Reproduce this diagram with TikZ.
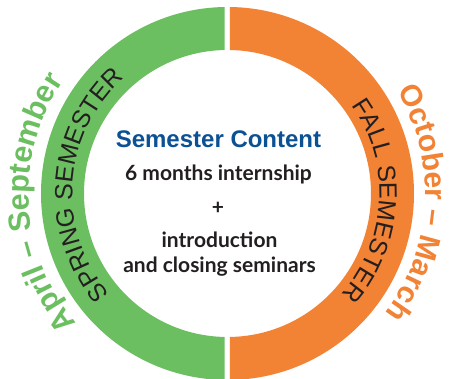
\documentclass[tikz,border=0pt]{standalone}
\usepackage{fontspec}
\setmainfont{Liberation Sans}
\newfontfamily\contentfont{Lato}
\usetikzlibrary{decorations.text}

\definecolor{springgreen}{HTML}{6CBF61}
\definecolor{fallorange}{HTML}{F28234}
\definecolor{titleblue}{HTML}{0B5193}
\definecolor{inktext}{HTML}{231F20}

\tikzset{
  ringtext/.style={decorate, decoration={text along path, text align=center, text={#1}}},
  titletext/.style={font=\bfseries\fontsize{24}{24}\selectfont, text=titleblue, anchor=base, inner sep=0pt},
  contentline/.style={font=\contentfont\bfseries\fontsize{21}{21}\selectfont, text=inktext, anchor=base, inner sep=0pt},
}

\begin{document}
\begin{tikzpicture}[x=1pt, y=1pt]
        \useasboundingbox (-227.5,-185.5) rectangle (222.5,193.5);

        % Spring half
        \begin{scope}
            \clip (-240,-200) rectangle (-2.8,200);
            \fill[springgreen, even odd rule] (0,0) circle (186.5pt) (0,0) circle (143.5pt);
        \end{scope}

        % Fall half
        \begin{scope}
            \clip (2.5,-200) rectangle (240,200);
            \fill[fallorange, even odd rule] (0,0) circle (186.5pt) (0,0) circle (143.5pt);
        \end{scope}

        % Texts in the ring
        \path[ringtext={|\color{inktext}\fontsize{25}{25}\selectfont|SPRING SEMESTER}] (236:155pt) arc[start angle=236, end angle=116, radius=155pt];
        \path[ringtext={|\color{inktext}\fontsize{25}{25}\selectfont|FALL SEMESTER}] (57:152pt) arc[start angle=57, end angle=-63, radius=152pt];

        % Months outside
        \path[ringtext={|\color{springgreen}\bfseries\fontsize{30.5}{30.5}\selectfont|April – September}] (243:199pt) arc[start angle=243, end angle=123, radius=199pt];
        \path[ringtext={|\color{fallorange}\bfseries\fontsize{30}{30}\selectfont|October – March}] (57:198pt) arc[start angle=57, end angle=-63, radius=198pt];

        % Semester content
        \node[titletext] (title) at (-9,46.2) {Semester Content};
        \node[contentline] (internship) at (-9,12.5) {6 months internship};
        \node[contentline] (plus) at (-9.5,-21) {+}; % plus sign
        \node[contentline] (intro) at (-8,-53.8) {introduction};
        \node[contentline] (seminars) at (-8,-78.8) {and closing seminars};
\end{tikzpicture}
\end{document}
